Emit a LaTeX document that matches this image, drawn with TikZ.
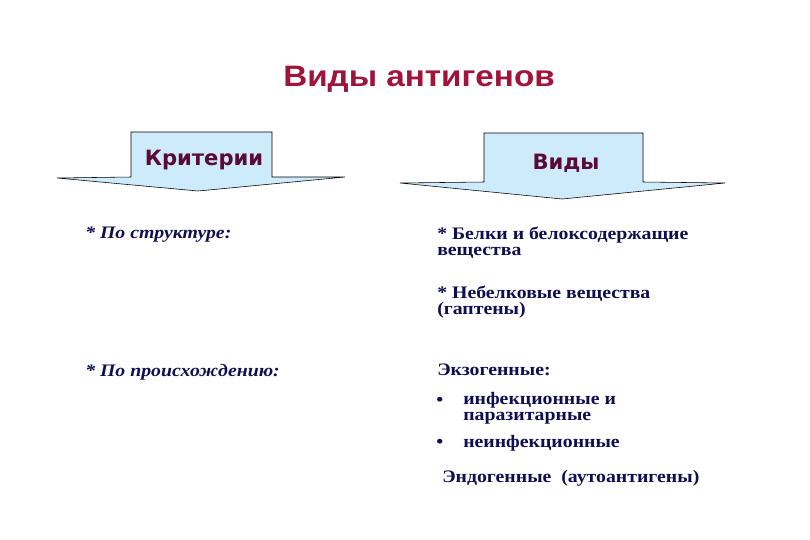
\documentclass[tikz,border=0pt]{standalone}
\usepackage{fontspec}
\setmainfont{Liberation Serif}[FakeStretch=1.125]
\newfontfamily\headfont{Liberation Sans}[FakeStretch=1.125]
\newfontfamily\boxfont{DejaVu Sans}
\usepackage{tikz}
\usetikzlibrary{positioning}
\usepackage{xcolor}
\definecolor{titleRed}{RGB}{160, 20, 60}
\definecolor{boxText}{RGB}{90, 10, 55}
\definecolor{bodyBlue}{RGB}{15, 15, 80}
\definecolor{boxFill}{RGB}{205, 235, 250}

\begin{document}
\begin{tikzpicture}[x=0.025cm, y=-0.025cm,
    arrowbox/.style={draw=black, thin, fill=boxFill, line join=miter},
    boxlabel/.style={font=\boxfont\bfseries\fontsize{15}{18}\selectfont, text=boxText},
    item/.style={anchor=base west, inner sep=0pt, align=left, text=bodyBlue,
      font=\bfseries\fontsize{12.5}{11}\selectfont},
    crititem/.style={item, font=\bfseries\itshape\fontsize{12.5}{11}\selectfont}]
  \useasboundingbox (0, 0) rectangle (810, 540);

  % title
  \node[font=\headfont\bfseries\fontsize{21}{24}\selectfont, text=titleRed, anchor=base]
    (title) at (419, 86) {Виды антигенов};

  % the two down arrows
  \draw[arrowbox] (131, 132) -- (272, 132) -- (272, 177) -- (345, 177) -- (198, 191)
    -- (57, 178) -- (131, 177) -- cycle;
  \node[boxlabel] (crit) at (204, 160) {Критерии};

  \draw[arrowbox] (484, 133) -- (643, 133) -- (643, 182) -- (725, 183) -- (562, 199)
    -- (400, 183) -- (484, 182) -- cycle;
  \node[boxlabel] (kinds) at (566, 163) {Виды};

  % left column
  \node[crititem] (struct) at (85, 238) {* По структуре:};
  \node[crititem] (origin) at (85, 376) {* По происхождению:};

  % right column (base = last line)
  \node[item] (prot) at (437, 255) {* Белки и белоксодержащие\\вещества};
  \node[item] (hapt) at (437, 314) {* Небелковые вещества\\(гаптены)};
  \node[item] (exo) at (437, 375) {Экзогенные:};
  \node[item] (b1) at (436, 405) {•};
  \node[item] (inf) at (463, 420) {инфекционные и\\паразитарные};
  \node[item] (b2) at (436, 447) {•};
  \node[item] (noninf) at (463, 447) {неинфекционные};
  \node[item] (endo) at (442, 482) {Эндогенные\ \ (аутоантигены)};
\end{tikzpicture}
\end{document}
